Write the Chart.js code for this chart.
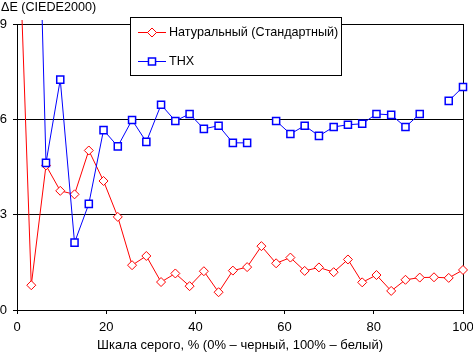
<!DOCTYPE html>
<html>
<head>
<meta charset="utf-8">
<script src="https://cdn.jsdelivr.net/npm/chart.js@4/dist/chart.umd.min.js"></script>
<style>
  html, body { margin: 0; padding: 0; background: #fff; }
  #Chart { display: block; }
</style>
</head>
<body>
<canvas id="Chart" width="473" height="353"></canvas>
<script>
// grey level, % (x positions of the measured points)
let grayLevels = [0, 3.2, 6.5, 9.7, 12.9, 16.1, 19.4, 22.6, 25.8, 29.0, 32.3, 35.5, 38.7, 41.9, 45.2, 48.4,
                  51.6, 54.8, 58.1, 61.3, 64.5, 67.7, 71.0, 74.2, 77.4, 80.6, 83.9, 87.1, 90.3, 93.5, 96.8, 100];

// delta E per grey level
let natural = [13.7, 0.78, 4.55, 3.75, 3.64, 5.02, 4.06, 2.93, 1.41, 1.70, 0.88, 1.15, 0.75, 1.22, 0.56, 1.24,
               1.35, 2.01, 1.47, 1.65, 1.23, 1.34, 1.19, 1.59, 0.87, 1.10, 0.60, 0.95, 1.02, 1.03, 1.01, 1.26];
let thx = [null, 22, 4.63, 7.25, 2.12, 3.34, 5.66, 5.15, 5.98, 5.29, 6.46, 5.95, 6.17, 5.70, 5.80, 5.26,
           5.26, null, 5.95, 5.54, 5.80, 5.48, 5.76, 5.83, 5.86, 6.17, 6.14, 5.76, 6.17, null, 6.58, 7.02];

let seriesNames = ['Натуральный (Стандартный)', 'THX'];
let xTicks = [0, 20, 40, 60, 80, 100];
let yTicks = [0, 3, 6, 9];
let xTitle = 'Шкала серого, % (0% – черный, 100% – белый)';
let yTitle = 'ΔE (CIEDE2000)';

const FONT = 'Liberation Sans, Arial, sans-serif';

function toPoints(values) {
    return values.map((v, i) => ({ x: grayLevels[i], y: v }));
}

function marker(ctx, style, x, y, r) {
    ctx.beginPath();
    if (style === 'rectRot') {
        ctx.moveTo(x - r, y);
        ctx.lineTo(x, y - r);
        ctx.lineTo(x + r, y);
        ctx.lineTo(x, y + r);
    } else {
        let s = Math.SQRT1_2 * r;
        ctx.rect(x - s, y - s, 2 * s, 2 * s);
    }
    ctx.closePath();
    ctx.fill();
    ctx.stroke();
}

// boxed legend inside the plot + the y title at top left
const boxLegend = {
    id: 'boxLegend',
    afterDraw(chart) {
        const ctx = chart.ctx;
        ctx.save();
        ctx.font = '12.6px ' + FONT;
        ctx.fillStyle = '#000';
        ctx.textBaseline = 'alphabetic';
        ctx.textAlign = 'left';
        ctx.fillText(yTitle, 1, 10.5);

        ctx.fillStyle = '#fff';
        ctx.fillRect(130.5, 17.5, 211, 58);
        ctx.strokeStyle = '#000';
        ctx.lineWidth = 1;
        ctx.strokeRect(130.5, 17.5, 211, 58);

        const rows = [32.5, 61.5];
        chart.data.datasets.forEach((ds, i) => {
            const y = rows[i];
            ctx.strokeStyle = ds.borderColor;
            ctx.lineWidth = 1;
            ctx.beginPath();
            ctx.moveTo(138, y);
            ctx.lineTo(166, y);
            ctx.stroke();
            ctx.fillStyle = '#fff';
            ctx.lineWidth = ds.pointBorderWidth;
            marker(ctx, ds.pointStyle, 152, y, ds.pointRadius);
            ctx.fillStyle = '#000';
            ctx.textBaseline = 'middle';
            ctx.fillText(ds.label, 169, y);
        });
        ctx.restore();
    }
};

let chartdata = {
    datasets: [{
            label: seriesNames[0],
            data: toPoints(natural),
            borderColor: '#ff0000',
            borderWidth: 1,
            pointStyle: 'rectRot',
            pointRadius: 4.5,
            pointBorderWidth: 1,
            pointBackgroundColor: '#ffffff',
            pointBorderColor: '#ff0000',
            order: 1,
            clip: { left: 5, top: 4, right: 5, bottom: 5 }
        },
        {
            label: seriesNames[1],
            data: toPoints(thx),
            borderColor: '#0000ff',
            borderWidth: 1,
            pointStyle: 'rect',
            pointRadius: 5,
            pointBorderWidth: 1.5,
            pointBackgroundColor: '#ffffff',
            pointBorderColor: '#0000ff',
            order: 0,
            clip: { left: 5, top: 4, right: 5, bottom: 5 }
        }
    ]
};

new Chart(document.getElementById('Chart'), {
    type: 'line',
    data: chartdata,
    plugins: [boxLegend],
    options: {
        responsive: false,
        animation: false,
        devicePixelRatio: 1,
        layout: { padding: { top: 24, right: 0, left: 0, bottom: 0 } },
        elements: { line: { tension: 0 } },
        plugins: { legend: { display: false }, tooltip: { enabled: false } },
        scales: {
            x: {
                type: 'linear',
                min: 0,
                max: 100,
                afterBuildTicks: s => { s.ticks = xTicks.map(v => ({ value: v })); },
                afterFit: s => { s.height = 43; s.paddingLeft = 0; s.paddingRight = 0; },
                ticks: { color: '#000', font: { family: FONT, size: 13 }, padding: 6, maxRotation: 0 },
                grid: { drawOnChartArea: false, color: '#000', tickLength: 4 },
                border: { color: '#000', width: 1 },
                title: { display: true, text: xTitle, color: '#000', font: { family: FONT, size: 13 }, padding: { top: 0, bottom: 0 } }
            },
            y: {
                min: 0,
                max: 9,
                afterBuildTicks: s => { s.ticks = yTicks.map(v => ({ value: v })); },
                afterFit: s => { s.width = 17; s.paddingTop = 0; s.paddingBottom = 0; },
                ticks: { color: '#000', font: { family: FONT, size: 13 }, padding: 6 },
                grid: { color: '#000', tickLength: 4 },
                border: { color: '#000', width: 1 }
            },
            y2: {
                position: 'right',
                min: 0,
                max: 9,
                afterFit: s => { s.width = 10; s.paddingTop = 0; s.paddingBottom = 0; },
                ticks: { display: false },
                grid: { display: false },
                border: { display: true, color: '#000', width: 1 }
            }
        }
    }
});
</script>
</body>
</html>
